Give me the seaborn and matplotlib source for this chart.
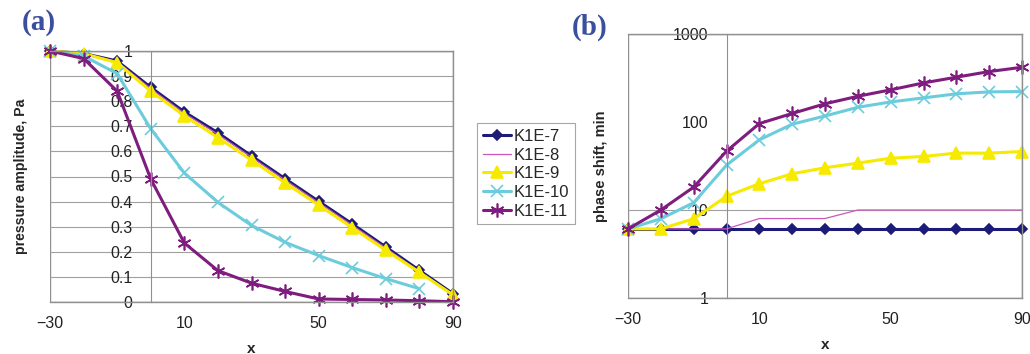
import pandas as pd
import numpy as np
import matplotlib
matplotlib.use("Agg")
import matplotlib.pyplot as plt
import seaborn as sns
from matplotlib.patches import Rectangle

# %%
x = [-30, -20, -10, 0, 10, 20, 30, 40, 50, 60, 70, 80, 90]
series = ["K1E-7", "K1E-8", "K1E-9", "K1E-10", "K1E-11"]

# (a) pressure amplitude, Pa
amp_7 = [1.0, 0.99, 0.96, 0.855, 0.757, 0.674, 0.582, 0.491, 0.401, 0.311, 0.219, 0.126, 0.033]
amp_8 = [1.0, 0.99, 0.958, 0.85, 0.752, 0.668, 0.577, 0.486, 0.396, 0.306, 0.215, 0.122, 0.031]
amp_9 = [1.0, 0.99, 0.953, 0.84, 0.742, 0.655, 0.565, 0.475, 0.386, 0.296, 0.206, 0.118, 0.028]
amp_10 = [1.0, 0.98, 0.91, 0.69, 0.514, 0.397, 0.305, 0.238, 0.185, 0.137, 0.093, 0.053, None]
amp_11 = [1.0, 0.97, 0.84, 0.49, 0.235, 0.125, 0.075, 0.042, 0.012, 0.01, 0.008, 0.005, 0.001]

# (b) phase shift, min
ph_7 = [6.1, 6.1, 6.1, 6.1, 6.1, 6.1, 6.1, 6.1, 6.1, 6.1, 6.1, 6.1, 6.1]
ph_8 = [6.1, 6.1, 6.1, 6.1, 8.0, 8.0, 8.0, 10.0, 10.0, 10.0, 10.0, 10.0, 10.0]
ph_9 = [6.1, 6.1, 7.95, 14.3, 19.9, 25.8, 30.2, 34.1, 38.8, 40.6, 44.3, 44.3, 46.2]
ph_10 = [6.1, 7.95, 12.1, 32.3, 62.7, 94.4, 117, 147, 169, 188, 209, 220, 222]
ph_11 = [6.1, 10.0, 18.2, 46.6, 96, 125, 161, 196, 232, 278, 323, 374, 419]

amp = dict(zip(series, [amp_7, amp_8, amp_9, amp_10, amp_11]))
ph = dict(zip(series, [ph_7, ph_8, ph_9, ph_10, ph_11]))

# %%
sns.set_style("white")
plt.rcParams['font.family'] = ['Liberation Sans', 'DejaVu Sans']

styles = {
    "K1E-7": dict(color="#1c1c78", marker="D", markersize=5.5, linewidth=2.2),
    "K1E-8": dict(color="#cc55bb", marker=None, markersize=0, linewidth=0.9),
    "K1E-9": dict(color="#f6ea00", marker="^", markersize=9, linewidth=2.2),
    "K1E-10": dict(color="#6cccdc", marker="x", markersize=8, linewidth=2.2),
    "K1E-11": dict(color="#7e1d7e", marker=(6, 2, 0), markersize=10, linewidth=2.2),
}

fig = plt.figure(figsize=(10.3, 3.54), dpi=100)
ax1 = fig.add_axes([50 / 1030, 1 - 302 / 354, 403 / 1030, 251 / 354])
ax2 = fig.add_axes([628 / 1030, 1 - 298 / 354, 394 / 1030, 264 / 354])

frame_col = "#909090"


def draw(ax, data):
    for name in series:
        df = pd.DataFrame({"x": x, "y": data[name]}).dropna()
        st = styles[name]
        sns.lineplot(data=df, x="x", y="y", ax=ax, color=st["color"],
                     marker=st["marker"], markersize=st["markersize"],
                     linewidth=st["linewidth"], markeredgecolor=st["color"],
                     markeredgewidth=1.2, label=name, legend=False, clip_on=False)
    ax.set_xlim(-30, 90)
    ax.set_xticks([-30, 10, 50, 90])
    for s in ["top", "right", "bottom"]:
        ax.spines[s].set_color(frame_col)
        ax.spines[s].set_linewidth(1.0)
    ax.spines["left"].set_position(("data", 0))
    ax.spines["left"].set_color(frame_col)
    ax.spines["left"].set_linewidth(0.8)
    ax.add_patch(Rectangle((0, 0), 1, 1, transform=ax.transAxes, fill=False,
                           edgecolor=frame_col, linewidth=1.0, zorder=0))
    ax.tick_params(axis="x", direction="out", length=4, color=frame_col,
                   labelsize=11.5, pad=6, labelcolor="#222222")
    ax.tick_params(axis="y", direction="out", length=3, color=frame_col,
                   labelsize=11.5, pad=10, labelcolor="#222222")
    ax.set_xlabel("x", fontsize=11, fontweight="bold", labelpad=8)


draw(ax1, amp)
ax1.set_ylim(0, 1)
ax1.set_yticks(np.arange(0, 1.01, 0.1))
ax1.set_yticklabels(["0", "0.1", "0.2", "0.3", "0.4", "0.5", "0.6", "0.7", "0.8", "0.9", "1"])
ax1.yaxis.grid(True, color="#a0a0a0", linewidth=0.8)
ax1.set_axisbelow(True)
ax1.set_ylabel("pressure amplitude, Pa", fontsize=10.2, fontweight="bold")
ax1.yaxis.set_label_coords(-0.055, 0.5)

draw(ax2, ph)
ax2.set_yscale("log")
ax2.set_ylim(1, 1000)
ax2.set_yticks([1, 10, 100, 1000])
ax2.set_yticklabels(["1", "10", "100", "1000"])
ax2.yaxis.set_minor_locator(matplotlib.ticker.NullLocator())
ax2.axhline(10, color="#a0a0a0", linewidth=0.8, zorder=0)
ax2.set_ylabel("phase shift, min", fontsize=10.5, fontweight="bold")
ax2.yaxis.set_label_coords(-0.052, 0.5)

handles, labels = ax1.get_legend_handles_labels()
leg = fig.legend(handles, labels, loc="upper left",
                 bbox_to_anchor=(477 / 1030, 1 - 123 / 354),
                 fontsize=12, frameon=True, fancybox=False, handlelength=1.7,
                 handletextpad=0.15, borderpad=0.35, labelspacing=0.22,
                 borderaxespad=0)
leg.get_frame().set_edgecolor("#909090")
leg.get_frame().set_linewidth(0.8)

fig.text(22 / 1030, 1 - 22 / 354, "(a)", fontsize=21, fontweight="bold",
         family=["Liberation Serif", "DejaVu Serif"], color="#3a4f9e", va="center")
fig.text(572 / 1030, 1 - 27 / 354, "(b)", fontsize=21, fontweight="bold",
         family=["Liberation Serif", "DejaVu Serif"], color="#3a4f9e", va="center")

fig.savefig("out.png", dpi=100)
